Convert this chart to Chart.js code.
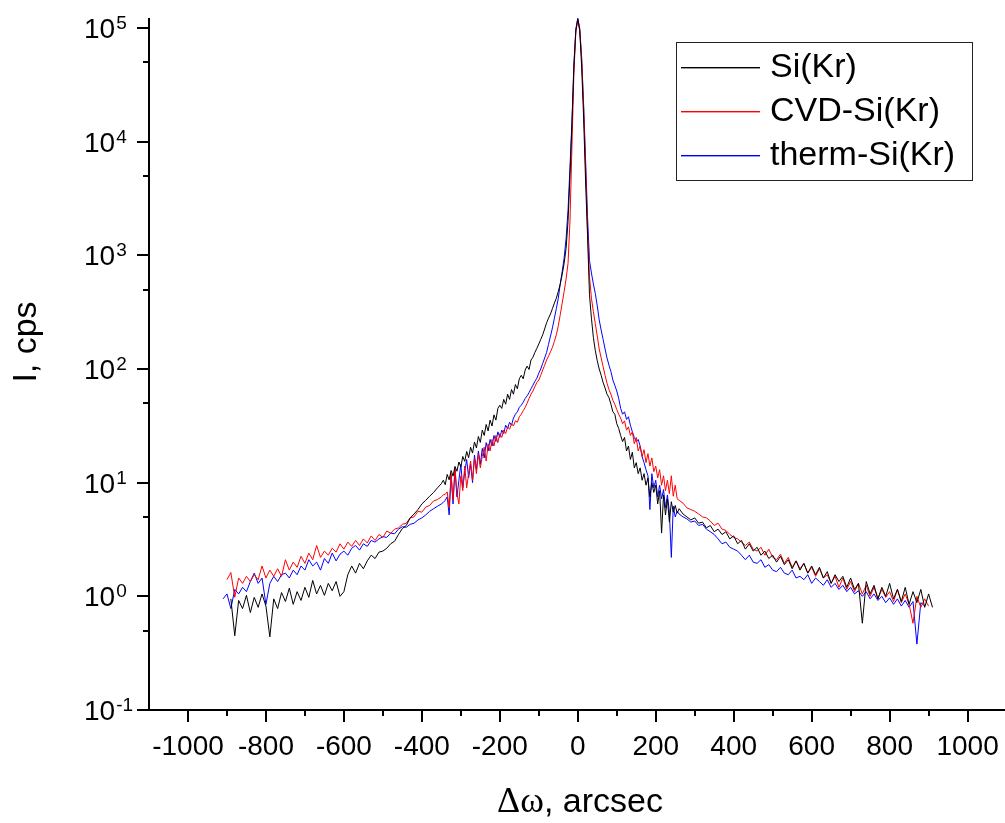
<!DOCTYPE html>
<html><head><meta charset="utf-8">
<script src="https://cdn.jsdelivr.net/npm/chart.js@4.4.1/dist/chart.umd.min.js"></script>
<style>html,body{margin:0;padding:0;background:#fff;overflow:hidden}canvas{display:block}</style>
</head><body>
<canvas id="c" width="1005" height="823"></canvas>
<script>
// ---- data ----
const xs = [
-910,-900,-890,-880,-870,-860,-850,-840,-830,-820,
-810,-800,-790,-780,-770,-760,-750,-740,-730,-720,
-710,-700,-690,-680,-670,-660,-650,-640,-630,-620,
-610,-600,-590,-580,-570,-560,-550,-540,-530,-520,
-510,-500,-490,-480,-470,-460,-450,-440,-430,-420,
-410,-400,-390,-380,-370,-360,-350,
-345,-340,-335,-330,-325,-320,-315,-310,-305,-300,
-295,-290,-285,-280,-275,-270,-265,-260,-255,-250,
-245,-240,-235,-230,-225,-220,-215,-210,-205,-200,
-195,-190,-185,-180,-175,-170,-165,-160,-155,-150,
-145,-140,-135,-130,-125,-120,-115,-110,-105,-100,
-95,-90,-85,-80,-75,-70,-65,-60,-55,-50,
-45,-40,-35,-30,-25,-20,-15,-10,-5,0,
5,10,15,20,25,30,35,40,45,50,
55,60,65,70,75,80,85,90,95,100,
105,110,115,120,125,130,135,140,145,150,
155,160,165,170,175,180,185,190,195,200,
205,210,215,220,225,230,235,240,245,250,
255,
260,270,280,290,300,310,320,330,340,350,
360,370,380,390,400,410,420,430,440,450,
460,470,480,490,500,510,520,530,540,550,
560,570,580,590,600,610,620,630,640,650,
660,670,680,690,700,710,720,730,740,750,
760,770,780,790,800,810,820,830,840,850,
860,870,880,890,900,910
];

const siKr = [
null,null,0.95,0.45,0.92,0.78,1.02,0.72,0.98,0.8,
1.05,0.82,0.44,0.95,0.78,1.08,0.9,1.18,0.85,1.1,
0.92,1.2,0.98,1.38,1.05,1.25,1.02,1.3,1.12,1.35,
1.0,1.1,1.55,1.85,1.6,1.95,1.75,2.05,2.3,2.15,
2.45,2.5,2.65,2.9,3.05,3.5,3.95,4.2,4.9,5.3,
5.8,6.5,7.0,7.6,8.2,9.0,9.8,
10.5,9.6,11.8,10.6,12.8,11.4,13.9,12.6,15.2,13.8,
17.0,15.4,18.8,16.6,20.5,18.2,22.8,20.2,25.5,22.6,
29,26,32.5,28.5,35.5,31.5,39.5,35.5,45,48,
45,54,49,60,54,66,60,73,67,82,
88,82,98,106,99,120,127,140,152,166,
182,200,225,255,280,305,340,380,420,480,
560,680,850,1150,2000,5000,14000,45000,95000,120000,
95000,45000,16000,4500,1500,450,280,190,145,118,
100,88,76,68,60,56,49,42,40,33,
30,26,23,25,19,21,16,18.5,13.5,15,
12,13.5,10.5,12,9.5,11,7.5,10,8.2,9.5,
6.5,8.5,3.6,7.8,5.2,7.2,4.5,6.8,5.5,6.3,
5.4,
5.9,5.3,5.0,4.7,4.9,4.4,4.5,4.0,4.2,3.7,
3.9,3.5,3.7,3.2,3.4,2.9,3.1,2.6,2.9,2.5,
2.7,2.3,2.5,2.15,2.3,2.0,2.25,1.9,2.1,1.75,
2.05,1.7,1.95,1.6,1.85,1.55,1.8,1.45,1.65,1.3,
1.55,1.35,1.5,1.2,1.45,1.15,1.3,0.58,1.35,1.05,
1.25,0.95,1.2,1.0,1.3,0.95,1.15,0.9,1.2,0.85,
1.1,0.88,1.15,0.8,1.05,0.8
];

const cvdSiKr = [
null,1.4,1.62,0.98,1.45,1.3,1.5,1.35,1.55,1.4,
1.85,1.45,1.7,1.5,1.75,1.5,2.1,1.7,2.0,1.8,
2.25,1.95,2.4,2.1,2.8,2.2,2.5,2.3,2.65,2.45,
2.9,2.6,3.0,2.75,3.1,2.8,3.2,2.95,3.4,3.1,
3.5,3.3,3.75,3.6,3.9,4.0,4.3,4.4,4.9,5.0,
5.6,5.5,6.1,6.3,6.9,7.1,7.5,
7.8,7.9,8.3,6.0,12.0,7.0,13.5,8.0,6.5,11.5,
8.5,14.0,9.0,12.0,15.5,10.5,16.5,12.0,18.0,13.5,
17.0,20.5,15.5,22.0,19.0,24.0,21.0,26.0,22.5,27.0,
25.0,29.0,27.0,31.0,29.5,33.0,31.5,35.0,34.0,38.0,
40,43,46,50,55,60,64,70,76,80,
88,98,108,120,130,142,155,175,200,240,
300,380,480,620,850,2000,9000,40000,92000,118000,
96000,52000,20000,6000,1700,650,420,320,250,195,
150,125,105,88,75,66,60,53,49,44,
40,37,33,35,29,31,26,28,22,25,
19,21,17,19.5,15,18,14,16.5,12.5,14,
11,13,9.5,11.5,8.5,10.5,8.0,11.5,7.6,9.5,
7.2,
7.0,6.6,6.0,5.8,5.6,5.3,5.0,4.9,4.6,4.2,
4.4,3.9,3.8,3.5,3.3,3.2,3.0,2.8,3.0,2.6,
2.5,2.7,2.3,2.6,2.2,2.1,2.35,1.95,2.2,1.8,
2.05,1.75,1.95,1.6,1.8,1.5,1.75,1.45,1.55,1.3,
1.5,1.2,1.45,1.15,1.35,1.1,1.3,1.05,1.25,1.0,
1.2,0.95,1.15,0.98,1.1,0.9,1.15,0.88,1.05,0.85,
0.58,1.0,0.8,0.95,0.82,null
];

const thermSiKr = [
0.95,1.05,0.78,1.15,1.05,1.2,1.1,1.35,1.6,1.3,
1.45,0.85,1.3,1.5,1.35,1.55,1.6,1.45,1.7,1.55,
1.85,1.7,2.1,1.85,2.0,1.7,2.15,1.95,2.4,2.05,
2.35,2.5,2.3,2.65,2.8,2.55,2.9,2.75,3.1,3.0,
3.2,3.35,3.3,3.6,3.55,3.9,4.1,4.05,4.3,4.4,
4.7,4.9,5.2,5.6,5.9,6.2,6.5,
6.7,7.0,7.5,5.2,11.5,6.5,13.0,7.5,10.5,14.5,
9.0,12.5,16.0,11.0,14.5,10.0,17.5,13.0,19.0,14.5,
20.0,16.5,22.5,19.0,24.0,21.0,26.0,23.0,28.0,25.0,
29,27,32,30,34,32,37,40,42,46,
48,51,55,58,62,67,72,78,83,92,
100,112,125,140,165,195,230,280,340,420,
560,720,950,1400,2500,6000,15000,48000,98000,122000,
100000,55000,21000,7000,2200,900,700,560,460,360,
270,220,182,150,125,108,95,80,72,64,
55,45,40,42,36,38,32,28,25,23,
24,21,17,15,13,11.5,5.8,12,9,10.5,
7.5,9.5,7.2,8.7,6.0,7.8,5.5,2.2,6.2,5.0,
5.6,
5.3,5.0,4.8,4.5,4.6,4.2,4.3,3.9,3.7,3.5,
3.2,2.9,3.0,2.7,2.6,2.5,2.3,2.1,2.3,2.0,
1.95,2.1,1.8,1.9,1.7,1.65,1.8,1.6,1.55,1.7,
1.45,1.5,1.4,1.55,1.3,1.45,1.35,1.25,1.4,1.2,
1.3,1.15,1.25,1.1,1.2,1.05,1.12,1.0,1.1,0.95,
1.05,0.92,1.0,0.88,0.97,0.85,0.95,0.82,0.92,0.8,
0.9,0.38,0.88,0.82,null,null
];

const seriesLabels = ['Si(Kr)', 'CVD-Si(Kr)', 'therm-Si(Kr)'];
const seriesColors = ['#000000', '#ff0000', '#0000ff'];
const xMajorTicks = [-1000,-800,-600,-400,-200,0,200,400,600,800,1000];
const xMinorTicks = [-900,-700,-500,-300,-100,100,300,500,700,900];
const yMajorTicks = [0.1,1,10,100,1000,10000,100000];
const yTickExponents = ['-1','0','1','2','3','4','5'];
const yMinorTicks = [0.5,5,50,500,5000,50000];
const xTitleSymbol = 'Δω';
const xTitleText = ', arcsec';
const yTitleText = 'I, cps';

// ---- drawing ----
const SANS = '"Liberation Sans", Arial, sans-serif';
const SERIF = '"Liberation Serif", "Times New Roman", serif';

function toPoints(arr) { return xs.map((x, i) => ({ x: x, y: arr[i] })); }

const decorPlugin = {
  id: 'decor',
  afterDraw(chart) {
    const ctx = chart.ctx;
    const xs_ = chart.scales.x, ys_ = chart.scales.y;
    const area = chart.chartArea;
    ctx.save();
    ctx.strokeStyle = '#000';
    ctx.fillStyle = '#000';
    ctx.lineWidth = 2;
    // x tick marks
    const tickX = (v, len) => {
      const p = Math.round(xs_.getPixelForValue(v));
      ctx.beginPath(); ctx.moveTo(p, area.bottom); ctx.lineTo(p, area.bottom + len); ctx.stroke();
    };
    xMajorTicks.forEach(v => tickX(v, 12));
    xMinorTicks.forEach(v => tickX(v, 6));
    // y tick marks
    const tickY = (v, len) => {
      const p = Math.round(ys_.getPixelForValue(v));
      ctx.beginPath(); ctx.moveTo(area.left, p); ctx.lineTo(area.left - len, p); ctx.stroke();
    };
    yMajorTicks.forEach(v => tickY(v, 12));
    yMinorTicks.forEach(v => tickY(v, 6));
    // y tick labels 10^n
    ctx.textAlign = 'left';
    ctx.textBaseline = 'alphabetic';
    yMajorTicks.forEach((v, i) => {
      const p = ys_.getPixelForValue(v);
      ctx.font = '28px ' + SANS;
      ctx.fillText('10', 84, p + 10);
      const w = ctx.measureText('10').width;
      ctx.font = '19px ' + SANS;
      ctx.fillText(yTickExponents[i], 84 + w + 1, p + 1);
    });
    // y axis title
    ctx.save();
    ctx.translate(36, 342);
    ctx.rotate(-Math.PI / 2);
    ctx.font = '34px ' + SANS;
    ctx.textAlign = 'center';
    ctx.fillText(yTitleText, 0, 0);
    ctx.restore();
    // x axis title (symbol in serif, rest in sans)
    ctx.font = '36px ' + SERIF;
    const w1 = ctx.measureText(xTitleSymbol).width;
    ctx.font = '34px ' + SANS;
    const w2 = ctx.measureText(xTitleText).width;
    const x0 = 580 - (w1 + w2) / 2;
    ctx.textAlign = 'left';
    ctx.font = '36px ' + SERIF;
    ctx.fillText(xTitleSymbol, x0, 812);
    ctx.font = '34px ' + SANS;
    ctx.fillText(xTitleText, x0 + w1, 812);
    // legend
    ctx.lineWidth = 1;
    ctx.strokeStyle = '#222';
    ctx.strokeRect(676.5, 42.5, 296, 138);
    const rows = [67, 111, 155];
    ctx.textBaseline = 'middle';
    for (let i = 0; i < seriesLabels.length; i++) {
      ctx.fillStyle = seriesColors[i];
      ctx.fillRect(681, rows[i], 79, 1.4);
      ctx.fillStyle = '#000000';
      ctx.font = '34px ' + SANS;
      ctx.fillText(seriesLabels[i], 770, rows[i] + 1);
    }
    ctx.restore();
  }
};

const chart = new Chart(document.getElementById('c').getContext('2d'), {
  type: 'line',
  data: {
    datasets: [
      { label: seriesLabels[0], data: toPoints(siKr), borderColor: seriesColors[0] },
      { label: seriesLabels[1], data: toPoints(cvdSiKr), borderColor: seriesColors[1] },
      { label: seriesLabels[2], data: toPoints(thermSiKr), borderColor: seriesColors[2] }
    ]
  },
  options: {
    responsive: false,
    animation: false,
    devicePixelRatio: 1,
    layout: { padding: { top: 19, left: 0, right: 0, bottom: 0 } },
    datasets: { line: { borderWidth: 1, pointRadius: 0, tension: 0, fill: false, spanGaps: false, clip: false } },
    plugins: { legend: { display: false }, tooltip: { enabled: false } },
    scales: {
      x: {
        type: 'linear', min: -1100, max: 1096,
        afterFit: s => { s.height = 113; s.paddingLeft = 0; s.paddingRight = 0; },
        afterBuildTicks: s => { s.ticks = xMajorTicks.concat(xMinorTicks).sort((a, b) => a - b).map(v => ({ value: v })); },
        grid: { display: true, drawOnChartArea: false, drawTicks: true, tickLength: 20, tickColor: 'rgba(0,0,0,0)' },
        border: { display: true, color: '#000', width: 2 },
        ticks: {
          autoSkip: false, maxRotation: 0, padding: 0, color: '#000',
          font: { family: SANS, size: 28 },
          callback: v => (xMajorTicks.includes(v) ? String(v) : '')
        }
      },
      y: {
        type: 'logarithmic', min: 0.1, max: 120000,
        afterFit: s => { s.width = 149; },
        afterBuildTicks: s => { s.ticks = yMajorTicks.concat(yMinorTicks).sort((a, b) => a - b).map(v => ({ value: v })); },
        grid: { display: true, drawOnChartArea: false, drawTicks: false },
        border: { display: true, color: '#000', width: 2 },
        ticks: { display: false }
      }
    }
  },
  plugins: [decorPlugin]
});
</script>
</body></html>
